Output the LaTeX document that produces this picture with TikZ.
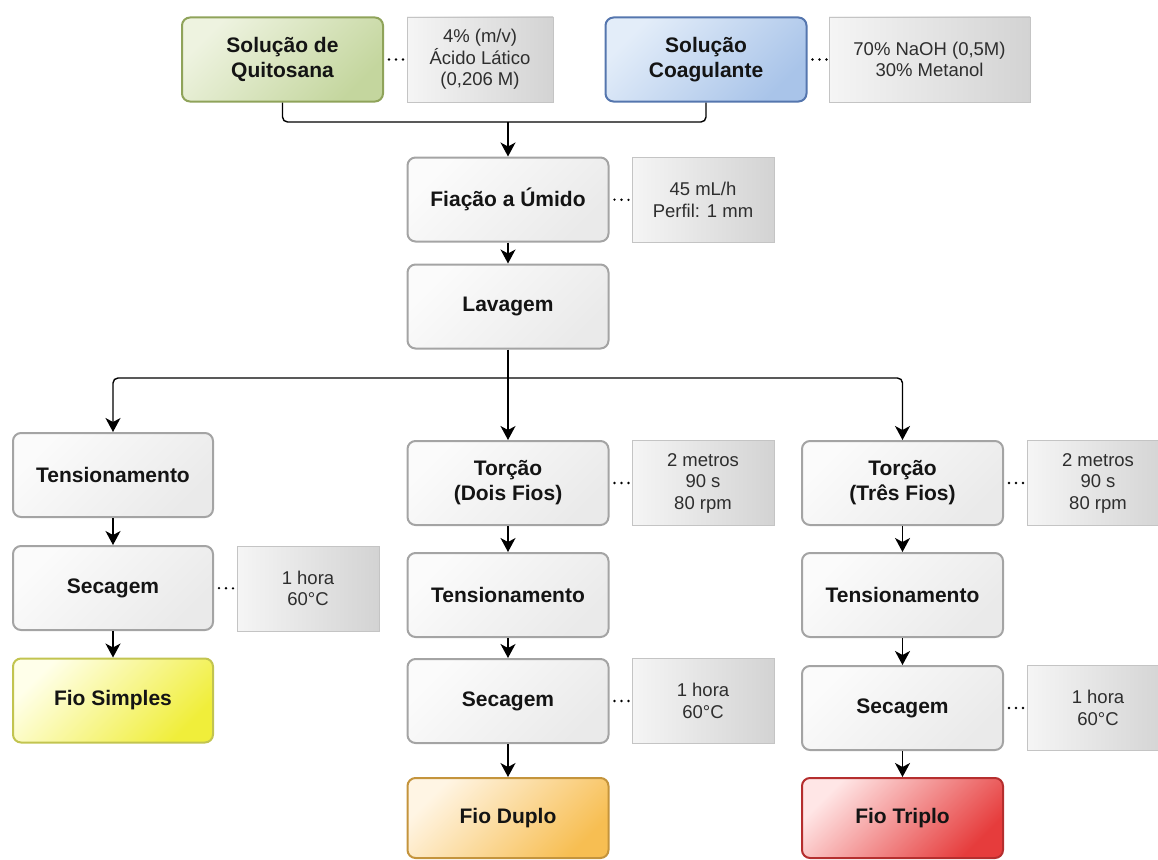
\documentclass[tikz,border=0pt]{standalone}
\usepackage{fontspec}
\setmainfont{Liberation Sans}
\usetikzlibrary{arrows.meta}
\definecolor{procfill1}{HTML}{FBFBFB}
\definecolor{procfill2}{HTML}{EAEAEA}
\definecolor{procline}{HTML}{A4A4A4}
\definecolor{notefill1}{HTML}{F5F5F5}
\definecolor{notefill2}{HTML}{D3D3D3}
\definecolor{noteline}{HTML}{C4C4C4}
\definecolor{grn1}{HTML}{EEF3E0}
\definecolor{grn2}{HTML}{C4D69E}
\definecolor{grnline}{HTML}{8FA35A}
\definecolor{blu1}{HTML}{E3EDF9}
\definecolor{blu2}{HTML}{A9C4E9}
\definecolor{bluline}{HTML}{5576AE}
\definecolor{yel1}{HTML}{FFFFEA}
\definecolor{yel2}{HTML}{F0EE3A}
\definecolor{yelline}{HTML}{C2C450}
\definecolor{org1}{HTML}{FFF5E4}
\definecolor{org2}{HTML}{F7BE52}
\definecolor{orgline}{HTML}{C4943C}
\definecolor{red1}{HTML}{FFE6E6}
\definecolor{red2}{HTML}{E63C3C}
\definecolor{redline}{HTML}{B52E2E}
\definecolor{txt}{HTML}{141414}
\definecolor{notetxt}{HTML}{2E2E2E}
\tikzset{
  basebox/.style={rounded corners=8pt, line width=2pt, minimum height=84pt,
    minimum width=201pt, align=center, inner sep=2pt, text=txt,
    font=\fontsize{21}{25}\selectfont\bfseries},
  proc/.style={basebox, draw=procline, top color=procfill1, bottom color=procfill2, shading angle=45},
  greenbox/.style={basebox, draw=grnline, top color=grn1, bottom color=grn2, shading angle=45},
  bluebox/.style={basebox, draw=bluline, top color=blu1, bottom color=blu2, shading angle=45},
  yellowbox/.style={basebox, draw=yelline, top color=yel1, bottom color=yel2, shading angle=45},
  orangebox/.style={basebox, draw=orgline, top color=org1, bottom color=org2, shading angle=45},
  redbox/.style={basebox, draw=redline, top color=red1, bottom color=red2, shading angle=45},
  note/.style={draw=noteline, line width=0.8pt, left color=notefill1, right color=notefill2,
    minimum height=85pt, minimum width=142pt, align=center, inner sep=2pt, text=notetxt,
    font=\fontsize{18.5}{21.5}\selectfont},
  arr/.style={line width=1.4pt, -{Stealth[length=14pt,width=15pt,inset=4pt]}},
  conn/.style={line width=1.4pt},
  dots/.style={line width=2.6pt, line cap=round, dash pattern=on 0pt off 7pt, shorten <=5pt, shorten >=1pt}
}
\begin{document}
\begin{tikzpicture}[x=1pt,y=-1pt]
\useasboundingbox (0,0) rectangle (1158,859);
% top row
\node[greenbox] (quit) at (282.5,59.5) {Solução de\\Quitosana};
\node[note, minimum width=146pt] (n1) at (480,59.5) {4\% (m/v)\\Ácido Lático\\(0,206 M)};
\node[bluebox] (coag) at (706,59.5) {Solução\\Coagulante};
\node[note, minimum width=201pt] (n2) at (929.5,59.5) {70\% NaOH (0,5M)\\30\% Metanol};
% center column top
\node[proc] (fiac) at (508,199.5) {Fiação a Úmido};
\node[note] (n3) at (703,200) {45 mL/h\\Perfil: 1 mm};
\node[proc] (lav) at (508,306.5) {Lavagem};
% left column
\node[proc, minimum width=200pt] (tens1) at (113,475) {Tensionamento};
\node[proc, minimum width=200pt] (sec1) at (113,588) {Secagem};
\node[note] (n4) at (308,588.5) {1 hora\\60°C};
\node[yellowbox, minimum width=200pt] (fio1) at (113,700.5) {Fio Simples};
% middle column
\node[proc] (tor2) at (508,483) {Torção\\(Dois Fios)};
\node[note] (n5) at (703,483) {2 metros\\90 s\\80 rpm};
\node[proc] (tens2) at (508,595) {Tensionamento};
\node[proc] (sec2) at (508,701) {Secagem};
\node[note] (n6) at (703,701) {1 hora\\60°C};
\node[orangebox, minimum height=80pt] (fio2) at (508,818) {Fio Duplo};
% right column
\node[proc] (tor3) at (902.5,483) {Torção\\(Três Fios)};
\node[note] (n7) at (1098,483) {2 metros\\90 s\\80 rpm};
\node[proc] (tens3) at (902.5,595) {Tensionamento};
\node[proc] (sec3) at (902.5,708) {Secagem};
\node[note] (n8) at (1098,708) {1 hora\\60°C};
\node[redbox, minimum height=80pt] (fio3) at (902.5,818) {Fio Triplo};
% junction coordinates
\coordinate (j1) at (508,122);
\coordinate (j2) at (508,378);
% connectors
\draw[conn, rounded corners=5pt] (quit.south) |- (j1) -| (coag.south);
\draw[arr] (j1) -- (fiac.north);
\draw[arr] (fiac) -- (lav);
\draw[arr, rounded corners=5pt] (j2) -| (tens1.north);
\draw[arr, rounded corners=5pt] (j2) -| (tor3.north);
\draw[arr] (lav) -- (tor2);
\draw[arr] (tens1) -- (sec1);
\draw[arr] (sec1) -- (fio1);
\draw[arr] (tor2) -- (tens2);
\draw[arr] (tens2) -- (sec2);
\draw[arr] (sec2) -- (fio2);
\draw[arr] (tor3) -- (tens3);
\draw[arr] (tens3) -- (sec3);
\draw[arr] (sec3) -- (fio3);
% dotted annotation links
\draw[dots] (quit.east) -- (n1.west);
\draw[dots] (coag.east) -- (n2.west);
\draw[dots] (fiac.east) -- (n3.west);
\draw[dots] (sec1.east) -- (n4.west);
\draw[dots] (tor2.east) -- (n5.west);
\draw[dots] (sec2.east) -- (n6.west);
\draw[dots] (tor3.east) -- (n7.west);
\draw[dots] (sec3.east) -- (n8.west);
\end{tikzpicture}
\end{document}
